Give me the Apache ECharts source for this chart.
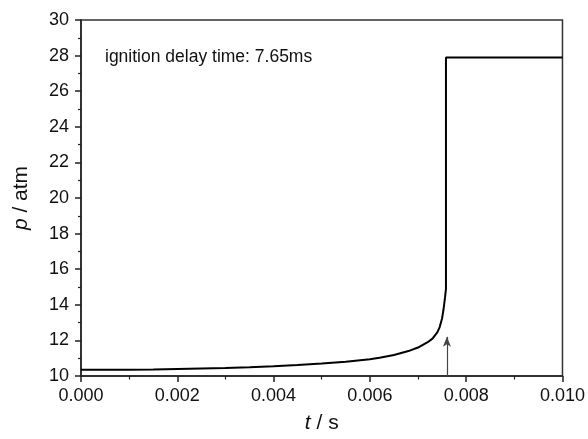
<!DOCTYPE html>
<html>
<head>
<meta charset="utf-8">
<script src="https://cdn.jsdelivr.net/npm/echarts@6/dist/echarts.min.js"></script>
<style>html,body{margin:0;padding:0;background:#fff}#c{width:588px;height:439px}</style>
</head>
<body>
<div id="c"></div>
<script>
// time (s)
var timeS = [0, 0.0005, 0.001, 0.0015, 0.002, 0.0025, 0.003, 0.0035, 0.004, 0.0045, 0.005, 0.0055, 0.006, 0.0062, 0.0065, 0.0068, 0.0070, 0.0072, 0.0073, 0.0074, 0.00745, 0.0075, 0.00753, 0.00756, 0.00758, 0.00758, 0.010];
// pressure (atm)
var pressureAtm = [10.35, 10.35, 10.35, 10.36, 10.39, 10.42, 10.45, 10.49, 10.55, 10.62, 10.70, 10.80, 10.94, 11.02, 11.18, 11.40, 11.60, 11.90, 12.10, 12.45, 12.75, 13.25, 13.75, 14.4, 14.9, 27.9, 27.9];
// arrow marking ignition
var arrowT = 0.00760;
var arrowP = [10, 12.2];
var annotation = 'ignition delay time: 7.65ms';
var xTicks = [0, 0.002, 0.004, 0.006, 0.008, 0.010];
var yTicks = [10, 12, 14, 16, 18, 20, 22, 24, 26, 28, 30];

var data = timeS.map(function (t, i) { return [t, pressureAtm[i]]; });
var chart = echarts.init(document.getElementById('c'));
var font = 'Arial, "Liberation Sans", Helvetica, sans-serif';
chart.setOption({
  animation: false,
  grid: { left: 81, right: 25, top: 20, bottom: 63, show: true, borderColor: '#333', borderWidth: 1.5, backgroundColor: 'transparent' },
  xAxis: {
    type: 'value', min: xTicks[0], max: xTicks[xTicks.length - 1], interval: 0.002,
    name: '{i|t} / s', nameLocation: 'middle', nameGap: 37,
    nameTextStyle: { fontFamily: font, fontSize: 21, color: '#111', rich: { i: { fontStyle: 'italic', fontFamily: font, fontSize: 21, color: '#111' } } },
    axisLine: { show: true, lineStyle: { color: '#222', width: 1.5 } },
    axisTick: { show: true, inside: false, length: 6, lineStyle: { color: '#222', width: 1.5 } },
    minorTick: { show: true, splitNumber: 2, length: 3.5, lineStyle: { color: '#222', width: 1.2 } },
    axisLabel: { fontFamily: font, fontSize: 18, color: '#111', margin: 11, formatter: function (v) { return v.toFixed(3); } },
    splitLine: { show: false }
  },
  yAxis: {
    type: 'value', min: yTicks[0], max: yTicks[yTicks.length - 1], interval: 2,
    name: '{i|p} / atm', nameLocation: 'middle', nameGap: 49,
    nameTextStyle: { fontFamily: font, fontSize: 21, color: '#111', rich: { i: { fontStyle: 'italic', fontFamily: font, fontSize: 21, color: '#111' } } },
    axisLine: { show: true, lineStyle: { color: '#222', width: 1.5 } },
    axisTick: { show: true, inside: false, length: 6, lineStyle: { color: '#222', width: 1.5 } },
    minorTick: { show: true, splitNumber: 2, length: 3, lineStyle: { color: '#222', width: 1.2 } },
    axisLabel: { fontFamily: font, fontSize: 18, color: '#111', margin: 12 },
    splitLine: { show: false }
  },
  graphic: [{
    type: 'text', left: 105, top: 48,
    style: { text: annotation, fontFamily: font, fontSize: 17.5, fill: '#111' }
  }],
  series: [{
    type: 'line', data: data, showSymbol: false, symbol: 'none',
    lineStyle: { color: '#000', width: 2 },
    markLine: {
      silent: true, symbol: ['none', 'arrow'], symbolSize: [6, 10],
      label: { show: false },
      lineStyle: { color: '#444', width: 1.2, type: 'solid' },
      data: [[{ coord: [arrowT, arrowP[0]] }, { coord: [arrowT, arrowP[1]] }]]
    }
  }]
});
</script>
</body>
</html>
